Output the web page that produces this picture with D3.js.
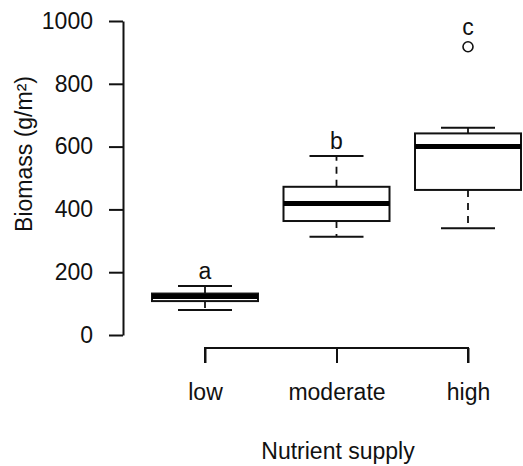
<!DOCTYPE html>
<html>
<head>
<meta charset="utf-8">
<script src="https://cdn.jsdelivr.net/npm/d3@7"></script>
<style>
  html, body { margin: 0; padding: 0; background: #fff; }
  svg { display: block; }
  text { font-family: "Liberation Sans", Arial, sans-serif; fill: #111; }
</style>
</head>
<body>
<svg id="chart" width="523" height="466"></svg>
<script>
const categories = ["low", "moderate", "high"];
const whiskerLow = [80, 313, 340];
const q1 = [108, 363, 462];
const median = [123, 419, 600];
const q3 = [132, 472, 642];
const whiskerHigh = [156, 570, 660];
const outliers = [[], [], [918]];
const letters = ["a", "b", "c"];
const yTicks = [0, 200, 400, 600, 800, 1000];

const svg = d3.select("#chart");
const FS = 23;
const FONT = "Liberation Sans, Arial, sans-serif";

const y = d3.scaleLinear().domain([0, 1000]).range([335, 21]);
const x = d3.scalePoint().domain(categories).range([205, 468]);
const halfBox = 53, halfCap = 27;
const ink = "#111";

// Y axis
const yAxis = d3.axisLeft(y).tickValues(yTicks).tickFormat(d3.format("d"))
  .tickSize(14).tickSizeOuter(0).tickPadding(16);
const gy = svg.append("g").attr("transform", "translate(123,0)").call(yAxis);
gy.attr("font-size", FS).attr("font-family", FONT);
gy.select(".domain").attr("stroke", ink).attr("stroke-width", 2);
gy.selectAll(".tick line").attr("stroke", ink).attr("stroke-width", 2);
gy.selectAll(".tick text").attr("fill", ink);

// X axis (bracket style)
const xAxis = d3.axisBottom(x).tickSize(15).tickSizeOuter(0).tickPadding(21);
const gx = svg.append("g").attr("transform", "translate(0,348)").call(xAxis);
gx.attr("font-size", FS).attr("font-family", FONT);
gx.select(".domain").attr("stroke", ink).attr("stroke-width", 2)
  .attr("d", `M${x(categories[0])},15V0H${x(categories[categories.length-1])}V15`);
gx.selectAll(".tick line").attr("stroke", ink).attr("stroke-width", 2);
gx.selectAll(".tick text").attr("fill", ink);

// Axis titles
svg.append("text").attr("x", 338).attr("y", 459).attr("text-anchor", "middle")
  .attr("font-size", FS).text("Nutrient supply");
svg.append("text").attr("transform", "translate(32,154) rotate(-90)").attr("text-anchor", "middle")
  .attr("font-size", FS).text("Biomass (g/m²)");

// Boxes
const data = categories.map((c, i) => ({
  c, lo: whiskerLow[i], q1: q1[i], med: median[i], q3: q3[i], hi: whiskerHigh[i],
  out: outliers[i], letter: letters[i]
}));

const g = svg.append("g");
const bx = g.selectAll("g.box").data(data).join("g").attr("class", "box");

// whiskers (dashed)
bx.append("line").attr("x1", d => x(d.c)).attr("x2", d => x(d.c))
  .attr("y1", d => y(d.q1)).attr("y2", d => y(d.lo))
  .attr("stroke", ink).attr("stroke-width", 1.8).attr("stroke-dasharray", "7,6");
bx.append("line").attr("x1", d => x(d.c)).attr("x2", d => x(d.c))
  .attr("y1", d => y(d.q3)).attr("y2", d => y(d.hi))
  .attr("stroke", ink).attr("stroke-width", 1.8).attr("stroke-dasharray", "7,6");
// caps
bx.append("line").attr("x1", d => x(d.c) - halfCap).attr("x2", d => x(d.c) + halfCap)
  .attr("y1", d => y(d.lo)).attr("y2", d => y(d.lo))
  .attr("stroke", ink).attr("stroke-width", 2);
bx.append("line").attr("x1", d => x(d.c) - halfCap).attr("x2", d => x(d.c) + halfCap)
  .attr("y1", d => y(d.hi)).attr("y2", d => y(d.hi))
  .attr("stroke", ink).attr("stroke-width", 2);
// box
bx.append("rect").attr("x", d => x(d.c) - halfBox).attr("width", halfBox * 2)
  .attr("y", d => y(d.q3)).attr("height", d => y(d.q1) - y(d.q3))
  .attr("fill", "#fff").attr("stroke", ink).attr("stroke-width", 2);
// median
bx.append("line").attr("x1", d => x(d.c) - halfBox).attr("x2", d => x(d.c) + halfBox)
  .attr("y1", d => y(d.med)).attr("y2", d => y(d.med))
  .attr("stroke", "#000").attr("stroke-width", 5);
// outliers
bx.selectAll("circle").data(d => d.out.map(v => ({c: d.c, v}))).join("circle")
  .attr("cx", d => x(d.c)).attr("cy", d => y(d.v)).attr("r", 5)
  .attr("fill", "none").attr("stroke", ink).attr("stroke-width", 1.6);
// letters
bx.append("text").attr("x", d => x(d.c))
  .attr("y", d => {
    const top = d.out.length ? y(d3.max(d.out)) - 5 : y(d.hi);
    return top - 7;
  })
  .attr("text-anchor", "middle").attr("font-size", FS).text(d => d.letter);
</script>
</body>
</html>
